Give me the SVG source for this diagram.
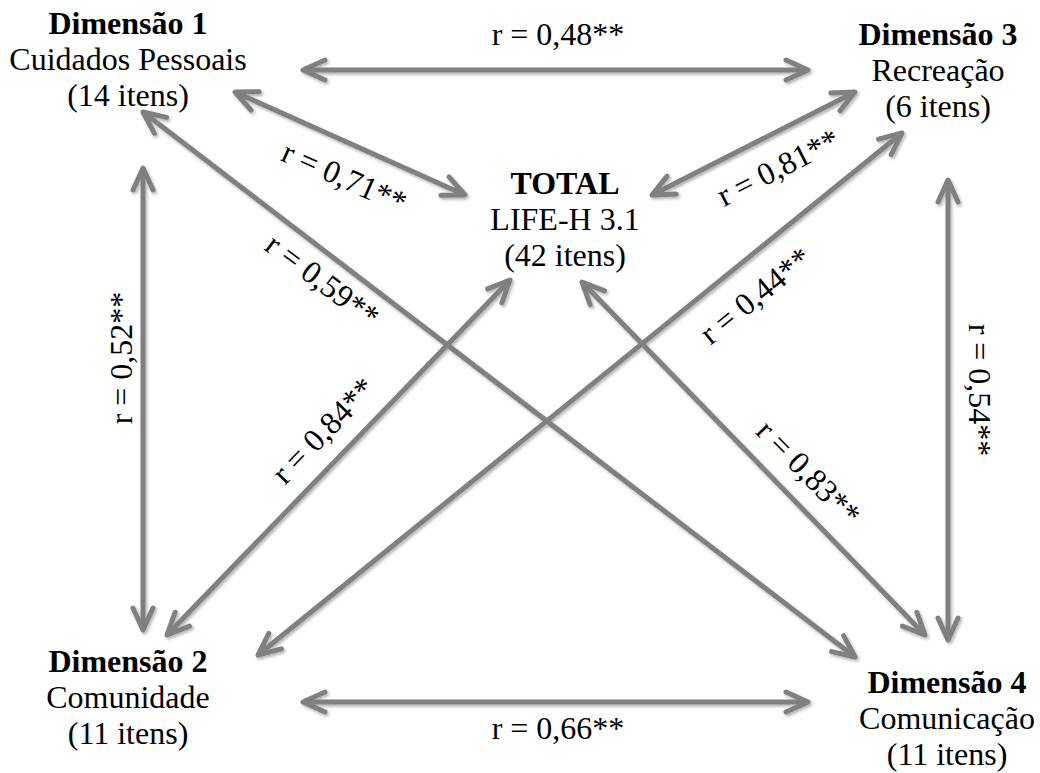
<svg xmlns="http://www.w3.org/2000/svg" width="1040" height="773" viewBox="0 0 1040 773">
<style>
text{font-family:"Liberation Serif","Times New Roman",serif;font-size:32px;fill:#000;text-anchor:middle}
.b{font-weight:bold}
.c line{stroke:#808080;stroke-width:5;marker-start:url(#ah);marker-end:url(#ah)}
</style>
<defs>
<marker id="ah" markerUnits="userSpaceOnUse" orient="auto-start-reverse" refX="0" refY="0" viewBox="-30 -15 35 30" markerWidth="35" markerHeight="30" overflow="visible">
<path d="M-22,-10 L0,0 L-22,10" fill="none" stroke="#808080" stroke-width="5" stroke-linecap="round" stroke-linejoin="round"/>
</marker>
<filter id="sh" x="-10%" y="-10%" width="120%" height="120%">
<feDropShadow dx="1.5" dy="2" stdDeviation="1.5" flood-color="#000" flood-opacity="0.3"/>
</filter>
</defs>
<rect width="1040" height="773" fill="#fff"/>
<g id="connectors" class="c" filter="url(#sh)">
<line x1="303" y1="70" x2="808" y2="70"/>
<line x1="235" y1="92" x2="465" y2="195"/>
<line x1="143" y1="112" x2="855" y2="657"/>
<line x1="143" y1="168" x2="143" y2="630"/>
<line x1="510" y1="280" x2="167" y2="635"/>
<line x1="258" y1="655" x2="902" y2="133"/>
<line x1="652" y1="195" x2="855" y2="92"/>
<line x1="948" y1="180" x2="948" y2="640"/>
<line x1="582" y1="282" x2="925" y2="635"/>
<line x1="303" y1="702" x2="808" y2="702"/>
</g>
<g id="labels">
<text x="558" y="45">r = 0,48**</text>
<text x="558" y="739">r = 0,66**</text>
<text transform="translate(340,187) rotate(24)">r = 0,71**</text>
<text transform="translate(316,289) rotate(37)">r = 0,59**</text>
<text transform="translate(132,358) rotate(-90)">r = 0,52**</text>
<text transform="translate(331,438) rotate(-46)">r = 0,84**</text>
<text transform="translate(783,177) rotate(-27)">r = 0,81**</text>
<text transform="translate(762,304) rotate(-39)">r = 0,44**</text>
<text transform="translate(801,480) rotate(45.5)">r = 0,83**</text>
<text transform="translate(969,390) rotate(90)">r = 0,54**</text>
</g>
<g id="dim1">
<text class="b" x="128" y="34">Dimensão 1</text>
<text x="128" y="70">Cuidados Pessoais</text>
<text x="128" y="106">(14 itens)</text>
</g>
<g id="dim3">
<text class="b" x="938" y="45">Dimensão 3</text>
<text x="938" y="81">Recreação</text>
<text x="938" y="117">(6 itens)</text>
</g>
<g id="total">
<text class="b" x="565" y="194">TOTAL</text>
<text x="565" y="230">LIFE-H 3.1</text>
<text x="565" y="266">(42 itens)</text>
</g>
<g id="dim2">
<text class="b" x="128" y="672">Dimensão 2</text>
<text x="128" y="708">Comunidade</text>
<text x="128" y="744">(11 itens)</text>
</g>
<g id="dim4">
<text class="b" x="947" y="693">Dimensão 4</text>
<text x="947" y="729">Comunicação</text>
<text x="947" y="765">(11 itens)</text>
</g>
</svg>
